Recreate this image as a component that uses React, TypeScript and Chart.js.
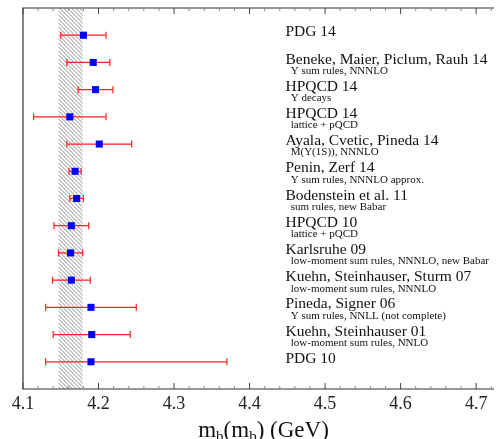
import { useEffect, useRef } from "react";
import { Chart, registerables } from "chart.js";

Chart.register(...registerables);

const mainLabels = [
  "PDG 14",
  "Beneke, Maier, Piclum, Rauh 14",
  "HPQCD 14",
  "HPQCD 14",
  "Ayala, Cvetic, Pineda 14",
  "Penin, Zerf 14",
  "Bodenstein et al. 11",
  "HPQCD 10",
  "Karlsruhe 09",
  "Kuehn, Steinhauser, Sturm 07",
  "Pineda, Signer 06",
  "Kuehn, Steinhauser 01",
  "PDG 10",
];

const subLabels = [
  "",
  "Υ sum rules, NNNLO",
  "Υ decays",
  "lattice + pQCD",
  "M(Υ(1S)), NNNLO",
  "Υ sum rules, NNNLO approx.",
  "sum rules, new Babar",
  "lattice + pQCD",
  "low-moment sum rules, NNNLO, new Babar",
  "low-moment sum rules, NNNLO",
  "Υ sum rules, NNLL (not complete)",
  "low-moment sum rules, NNLO",
  "",
];

const centralValues = [4.18, 4.193, 4.196, 4.162, 4.201, 4.169, 4.171, 4.164, 4.163, 4.164, 4.19, 4.191, 4.19];
const errorsLow = [0.03, 0.035, 0.023, 0.048, 0.043, 0.008, 0.009, 0.023, 0.016, 0.025, 0.06, 0.051, 0.06];
const errorsHigh = [0.03, 0.022, 0.023, 0.048, 0.043, 0.008, 0.009, 0.023, 0.016, 0.025, 0.06, 0.051, 0.18];

const bandRange = [4.147, 4.179];
const majorTicks = [4.1, 4.2, 4.3, 4.4, 4.5, 4.6, 4.7];
const minorTicks = [
  4.12, 4.14, 4.16, 4.18, 4.22, 4.24, 4.26, 4.28, 4.32, 4.34, 4.36, 4.38, 4.42, 4.44, 4.46, 4.48,
  4.52, 4.54, 4.56, 4.58, 4.62, 4.64, 4.66, 4.68, 4.72,
];
const xMin = 4.1;
const xMax = 4.721;
const rowCount = centralValues.length;
const labelX = 4.4475;
const subLabelX = 4.4545;

const FONT = "'Liberation Serif', 'DejaVu Serif', serif";

export default function App() {
  const ref = useRef<HTMLCanvasElement | null>(null);

  useEffect(() => {
    const canvas = ref.current;
    if (!canvas) return;
    document.body.style.margin = "0";

    const rowY = (i: number) => rowCount - i;

    const drawPlugin = {
      id: "hepDraw",
      beforeDatasetsDraw(chart: any) {
        const ctx = chart.ctx as CanvasRenderingContext2D;
        const xs = chart.scales.x;
        const ys = chart.scales.y;
        const area = chart.chartArea;
        // hatched band
        const bx0 = xs.getPixelForValue(bandRange[0]);
        const bx1 = xs.getPixelForValue(bandRange[1]);
        ctx.save();
        ctx.beginPath();
        ctx.rect(bx0, area.top, bx1 - bx0, area.bottom - area.top);
        ctx.clip();
        ctx.strokeStyle = "#8a8a8a";
        ctx.lineWidth = 1;
        const h = area.bottom - area.top;
        ctx.beginPath();
        for (let s = bx0 - h - 10; s < bx1 + 10; s += 4) {
          ctx.moveTo(s, area.top);
          ctx.lineTo(s + h, area.bottom);
        }
        ctx.stroke();
        ctx.restore();

        // error bars
        ctx.save();
        ctx.strokeStyle = "#ff2020";
        ctx.lineWidth = 1.2;
        centralValues.forEach((c, i) => {
          const y = ys.getPixelForValue(rowY(i));
          const xl = xs.getPixelForValue(c - errorsLow[i]);
          const xh = xs.getPixelForValue(c + errorsHigh[i]);
          ctx.beginPath();
          ctx.moveTo(xl, y);
          ctx.lineTo(xh, y);
          ctx.moveTo(xl, y - 3.5);
          ctx.lineTo(xl, y + 3.5);
          ctx.moveTo(xh, y - 3.5);
          ctx.lineTo(xh, y + 3.5);
          ctx.stroke();
        });
        ctx.restore();
      },
      afterDraw(chart: any) {
        const ctx = chart.ctx as CanvasRenderingContext2D;
        const xs = chart.scales.x;
        const ys = chart.scales.y;
        const area = chart.chartArea;
        ctx.save();
        // frame
        ctx.strokeStyle = "#333";
        ctx.lineWidth = 1.2;
        ctx.beginPath();
        ctx.moveTo(area.right + 2, area.top);
        ctx.lineTo(area.left, area.top);
        ctx.lineTo(area.left, area.bottom);
        ctx.lineTo(area.right + 2, area.bottom);
        ctx.stroke();
        // ticks
        ctx.lineWidth = 1;
        ctx.strokeStyle = "#444";
        ctx.beginPath();
        majorTicks.forEach((v) => {
          const x = xs.getPixelForValue(v);
          ctx.moveTo(x, area.bottom);
          ctx.lineTo(x, area.bottom - 6);
          ctx.moveTo(x, area.top);
          ctx.lineTo(x, area.top + 6);
        });
        ctx.stroke();
        ctx.strokeStyle = "#888";
        ctx.beginPath();
        minorTicks.forEach((v) => {
          const x = xs.getPixelForValue(v);
          ctx.moveTo(x, area.bottom);
          ctx.lineTo(x, area.bottom - 3);
          ctx.moveTo(x, area.top);
          ctx.lineTo(x, area.top + 3);
        });
        ctx.stroke();

        // labels
        ctx.fillStyle = "#111";
        ctx.textBaseline = "middle";
        ctx.textAlign = "left";
        const lx = xs.getPixelForValue(labelX);
        const sx = xs.getPixelForValue(subLabelX);
        mainLabels.forEach((t, i) => {
          const y = ys.getPixelForValue(rowY(i));
          ctx.font = `15.5px ${FONT}`;
          ctx.fillText(t, lx, y - 3);
          if (subLabels[i]) {
            ctx.font = `11px ${FONT}`;
            ctx.fillText(subLabels[i], sx, y + 8.5);
          }
        });

        // axis title m_b(m_b) (GeV)
        const parts: [string, boolean][] = [
          ["m", false],
          ["b", true],
          ["(m", false],
          ["b", true],
          [") (GeV)", false],
        ];
        const bigFont = `23px ${FONT}`;
        const smallFont = `15px ${FONT}`;
        let total = 0;
        parts.forEach(([t, sub]) => {
          ctx.font = sub ? smallFont : bigFont;
          total += ctx.measureText(t).width;
        });
        let x = (area.left + area.right) / 2 + 6 - total / 2;
        const base = 437;
        ctx.textBaseline = "alphabetic";
        parts.forEach(([t, sub]) => {
          ctx.font = sub ? smallFont : bigFont;
          ctx.fillText(t, x, sub ? base + 4 : base);
          x += ctx.measureText(t).width;
        });
        ctx.restore();
      },
    };

    const chart = new Chart(canvas, {
      type: "scatter",
      data: {
        datasets: [
          {
            data: centralValues.map((c, i) => ({ x: c, y: rowY(i) })),
            pointStyle: "rect",
            pointRadius: 5,
            pointHoverRadius: 5,
            backgroundColor: "#0000ff",
            borderColor: "#0000ff",
            borderWidth: 0,
          },
        ],
      },
      options: {
        responsive: false,
        animation: false,
        devicePixelRatio: 1,
        layout: { padding: { left: 23, top: 8, right: 0, bottom: 0 } },
        plugins: { legend: { display: false }, tooltip: { enabled: false } },
        scales: {
          x: {
            type: "linear",
            min: xMin,
            max: xMax,
            afterBuildTicks: (scale: any) => {
              scale.ticks = majorTicks.map((v) => ({ value: v }));
            },
            afterFit: (scale: any) => {
              scale.height = 50;
            },
            grid: { display: false, drawTicks: false },
            border: { display: false },
            ticks: {
              padding: 4,
              color: "#222",
              font: { family: FONT, size: 18 },
              callback: (v: any) => Number(v).toFixed(1),
              maxRotation: 0,
              autoSkip: false,
            },
          },
          y: {
            type: "linear",
            display: false,
            min: 0,
            max: rowCount + 1,
          },
        },
      },
      plugins: [drawPlugin],
    } as any);

    return () => chart.destroy();
  }, []);

  return (
    <div style={{ position: "absolute", left: 0, top: 0, width: 497, height: 439, background: "#fff" }}>
      <canvas ref={ref} width={497} height={439} />
    </div>
  );
}
